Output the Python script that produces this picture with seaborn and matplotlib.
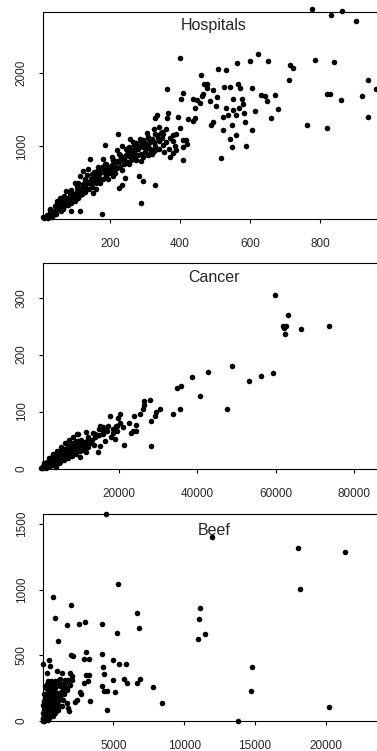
import seaborn as sns
import pandas as pd
import matplotlib
matplotlib.use("Agg")
import matplotlib.pyplot as plt

# (x, y) points
hospitals = [
    (776, 2875), (831, 2796), (862, 2843), (904, 2718), (400, 2204), (624, 2264),
    (652, 2171), (600, 2171), (562, 2134), (509, 2056), (533, 2046), (714, 2111),
    (722, 2070), (785, 2185), (840, 2157), (712, 1907), (938, 1907), (960, 1778),
    (919, 1685), (819, 1722), (830, 1722), (859, 1639), (762, 1292), (819, 1245),
    (938, 1407), (681, 1514), (671, 1708), (659, 1384), (643, 1685), (631, 1699),
    (648, 1625), (614, 1477), (607, 1222), (590, 1005), (607, 1801), (578, 1653),
    (581, 1583), (567, 1847), (573, 1801), (585, 1338), (584, 1454), (570, 1523),
    (559, 1431), (559, 1153), (549, 991), (543, 1107), (550, 1292), (552, 1500),
    (552, 1653), (543, 1810), (526, 1815), (538, 1431), (531, 1523), (524, 1408),
    (522, 1222), (516, 843), (505, 1671), (503, 1546), (495, 1329), (489, 1292),
    (486, 1616), (495, 1769), (478, 1801), (476, 1847), (460, 1972), (469, 1847),
    (462, 1685), (457, 1593), (467, 1718), (449, 1639), (438, 1648), (443, 1523),
    (443, 1384), (438, 1352), (422, 1375), (417, 1093), (408, 1083), (408, 991),
    (410, 815), (419, 1037), (400, 1245), (404, 1648), (408, 1732), (395, 1408),
    (390, 1176), (390, 945), (379, 907), (371, 852), (364, 1778), (367, 1454),
    (364, 1384), (371, 1120), (379, 1074), (386, 1005), (351, 1176), (341, 1269),
    (333, 1431), (329, 1384), (352, 1014), (360, 1060), (338, 1120), (326, 1231),
    (327, 945), (328, 472), (309, 1120), (305, 1037), (314, 898), (295, 528),
    (295, 1083), (290, 805), (284, 597), (288, 227), (269, 921), (267, 852),
    (273, 1046), (257, 1107), (255, 991), (249, 889), (246, 782), (243, 574),
    (233, 467), (227, 426), (224, 1176), (221, 945), (233, 1000), (210, 815),
    (212, 713), (210, 597), (198, 690), (190, 690), (186, 1014), (181, 829),
    (176, 713), (171, 505), (178, 79), (162, 667), (157, 574), (152, 366),
    (143, 829), (138, 690), (131, 435), (124, 482), (122, 667), (114, 597),
    (114, 111), (110, 319), (105, 389), (100, 505), (88, 111), (90, 227),
    (81, 273), (74, 389), (62, 296), (57, 134), (48, 227), (38, 65), (29, 134),
    (19, 42), (10, 42),
    (15, 30), (20, 60), (25, 45), (30, 90), (35, 120), (40, 100), (45, 150),
    (50, 180), (55, 160), (60, 210), (65, 250), (70, 230), (75, 280), (80, 300),
    (85, 260), (90, 330), (95, 350), (100, 310), (105, 380), (110, 420),
    (115, 400), (120, 450), (125, 470), (130, 430), (135, 500), (140, 520),
    (145, 480), (150, 560), (155, 540), (160, 600), (165, 580), (170, 620),
    (175, 650), (180, 680), (185, 640), (190, 700), (195, 720), (200, 690),
    (205, 750), (210, 760), (215, 730), (220, 800), (225, 780), (230, 820),
    (235, 850), (240, 830), (245, 880), (250, 900), (255, 870), (260, 920),
    (265, 950), (270, 930), (275, 980), (280, 960), (285, 1000), (290, 1020),
    (295, 990), (300, 1050), (305, 980), (310, 1010), (315, 1060), (320, 1100),
    (325, 940), (330, 1000), (335, 1150), (340, 1080), (345, 1180), (350, 1120),
    (30, 140), (45, 80), (60, 120), (70, 180), (80, 200), (90, 240), (100, 260),
    (110, 300), (120, 350), (130, 380), (140, 420), (150, 450), (160, 500),
    (170, 530), (180, 560), (190, 600), (200, 640), (210, 660), (220, 700),
    (230, 720), (240, 760), (250, 780), (260, 820), (270, 850), (280, 880),
    (290, 900), (300, 920), (310, 880), (320, 900), (330, 950),
    (50, 250), (70, 320), (90, 400), (110, 500), (130, 560), (150, 620),
    (170, 700), (190, 760), (210, 820), (230, 880), (250, 960), (270, 1020),
    (290, 1080), (310, 1130), (330, 1170), (350, 1200),
    (12, 20), (22, 15), (35, 40), (42, 190), (55, 230), (58, 300), (65, 150),
    (75, 240), (85, 350), (95, 290), (105, 440), (115, 340), (125, 400),
    (128, 540), (135, 610), (145, 560), (155, 650), (160, 420), (165, 720),
    (175, 560), (185, 760), (195, 560), (205, 860), (215, 640), (225, 900),
    (235, 680), (245, 960), (255, 760), (265, 1060), (275, 820), (285, 1100),
    (295, 860), (305, 1180), (315, 960), (325, 1060), (340, 960), (355, 920),
    (360, 1240), (370, 960), (380, 1150),
]

cancer = [
    (59825, 304), (63140, 269), (62120, 247), (62550, 251), (61870, 250),
    (62400, 237), (66380, 245), (73610, 250), (59310, 168), (56160, 163),
    (53180, 153), (48840, 180), (42800, 170), (38720, 161), (35910, 145),
    (34890, 142), (40590, 128), (47480, 105), (35570, 105), (33780, 96),
    (30380, 105), (29530, 99), (29100, 92), (28250, 83), (28080, 40),
    (27830, 120), (26300, 118), (26380, 111), (26130, 104), (25280, 95),
    (23960, 92), (24400, 76), (23570, 66), (23150, 63), (22550, 80),
    (24400, 66), (20170, 95), (19740, 89), (20340, 80), (19150, 74),
    (19490, 66), (18470, 63), (17620, 92), (18890, 51), (21190, 41),
    (16760, 69), (15910, 66), (15060, 74), (14210, 57), (14640, 29),
    (15060, 39), (13360, 63), (12080, 51), (11660, 64), (9530, 60),
    (9530, 48), (10810, 33), (9100, 39), (7400, 42), (8250, 28), (6550, 33),
    (5700, 28), (4850, 19), (4000, 16), (3150, 10), (2300, 7), (1020, 4),
    (300, 1), (600, 2), (900, 4), (1200, 3), (1500, 6), (1800, 5), (2100, 8),
    (2400, 9), (2700, 7), (3000, 12), (3300, 10), (3600, 14), (3900, 13),
    (4200, 16), (4500, 18), (4800, 15), (5100, 20), (5400, 22), (5700, 19),
    (6000, 25), (6300, 23), (6600, 27), (6900, 30), (7200, 26), (7500, 32),
    (7800, 29), (8100, 35), (8400, 33), (8700, 38), (9000, 36), (9300, 40),
    (9600, 42), (9900, 39), (10200, 45), (10500, 43), (2000, 15), (3000, 20),
    (4000, 25), (5000, 30), (6000, 35), (7000, 40), (8000, 44), (9000, 48),
    (4000, 8), (5000, 12), (6000, 15), (7000, 18), (8000, 22), (9000, 25),
    (10000, 30), (11000, 35), (12000, 38), (12500, 45), (13000, 50),
    (14000, 55), (15000, 58), (16000, 60), (17000, 65), (13500, 42),
    (16500, 48), (18000, 55), (11500, 28), (10000, 20), (1000, 8), (1500, 12),
    (2500, 4), (3500, 6), (500, 5), (800, 10), (2200, 18), (3200, 25),
    (4200, 30), (5200, 38), (6200, 45), (7200, 50), (8200, 55), (9200, 60),
    (700, 0), (1300, 1), (200, 0),
    (1600, 10), (2600, 14), (3400, 18), (4400, 22), (5400, 27), (6400, 31),
    (7400, 36), (8400, 41), (9400, 45), (10400, 50), (11400, 46), (12200, 55),
    (3800, 3), (4600, 10), (5600, 16), (6600, 21), (7600, 24), (8600, 30),
    (9800, 33), (10800, 40), (11800, 42), (13800, 60), (14800, 70),
    (16000, 72), (17200, 75), (18500, 70), (19500, 75), (21000, 72),
]

beef = [
    (4440, 1579), (11950, 1403), (18070, 1314), (21380, 1286), (18190, 1001),
    (5290, 1039), (756, 945), (11150, 856), (11080, 772), (11500, 662),
    (10980, 619), (6660, 823), (6830, 703), (5220, 670), (2010, 879),
    (898, 785), (1700, 726), (2575, 739), (3020, 751), (4180, 734),
    (1060, 606), (2030, 499), (2130, 492), (3070, 522), (3240, 471),
    (2950, 471), (4160, 509), (4940, 466), (4230, 408), (5360, 428),
    (5860, 428), (4300, 359), (4940, 311), (5720, 321), (5950, 288),
    (6850, 321), (6680, 288), (7790, 260), (5080, 222), (4530, 227),
    (4300, 227), (4180, 262), (8410, 135), (4580, 81), (14760, 227),
    (14780, 408), (20240, 107), (13790, 0), (3190, 303), (3050, 346),
    (3290, 346), (2930, 288), (3350, 153), (2690, 206), (2650, 217),
    (2290, 140), (1890, 74), (1820, 97), (1460, 224), (2055, 313),
    (2055, 339), (1940, 364), (1580, 313), (1350, 364), (520, 420),
    (47, 428), (472, 466), (990, 382), (400, 300), (756, 237), (1180, 199),
    (990, 135), (520, 110), (283, 186), (165, 59), (47, 20), (400, 8),
    (756, 33), (1110, 84), (1700, 135), (2410, 160), (1460, 160), (756, 160),
    (283, 84), (165, 262), (283, 364), (874, 300), (1230, 262), (1040, 211),
    (520, 186), (638, 224), (756, 275), (1180, 313), (1460, 262), (1700, 237),
    (1350, 110), (520, 59), (283, 38),
    (50, 10), (100, 30), (150, 60), (200, 90), (250, 120), (300, 150),
    (350, 180), (400, 210), (450, 240), (500, 270), (80, 0), (150, 5),
    (250, 15), (350, 25), (450, 40), (550, 60), (650, 80), (750, 100),
    (850, 130), (950, 160), (100, 200), (200, 250), (300, 280), (60, 150),
    (120, 100), (180, 170), (220, 50), (280, 80), (320, 110), (380, 140),
    (420, 60), (480, 90), (520, 150), (600, 120), (700, 180), (800, 200),
    (900, 250), (1000, 270), (1100, 300), (1200, 320), (1300, 280),
    (1400, 250), (1600, 290), (1800, 310), (30, 60), (20, 0), (600, 300),
    (700, 250), (800, 160), (900, 120), (1000, 80), (1100, 150), (1200, 180),
    (1300, 220), (1500, 200), (1700, 250), (1900, 270),
    (30, 120), (60, 40), (90, 80), (130, 140), (170, 20), (190, 110),
    (230, 200), (260, 60), (310, 40), (340, 220), (370, 100), (410, 160),
    (440, 20), (470, 190), (560, 100), (620, 40), (660, 160), (720, 60),
    (780, 140), (840, 60), (880, 190), (960, 100), (1050, 200), (1150, 110),
]

titles = ["Hospitals", "Cancer", "Beef"]
x_ticks = [[200, 400, 600, 800], [20000, 40000, 60000, 80000], [5000, 10000, 15000, 20000]]
y_ticks = [[1000, 2000], [0, 100, 200, 300], [0, 500, 1000, 1500]]

sns.set_style("white")
plt.rcParams['font.family'] = ['Liberation Sans', 'DejaVu Sans']

W, H = 377, 751
fig = plt.figure(figsize=(W / 100, H / 100), dpi=100)

# panel boxes in pixels: (top, bottom); right edge runs past the image
boxes = [(12, 219), (263, 469), (514, 721)]
xlims = [(8.6, 986), (590, 87950), (20, 24200)]
ylims = [(8, 2836), (-1, 361), (-3, 1576)]
title_off = [6, 7, 9]

for i, data in enumerate([hospitals, cancer, beef]):
    top, bot = boxes[i]
    ax = fig.add_axes([43 / W, 1 - bot / H, (385 - 43) / W, (bot - top) / H])
    df = pd.DataFrame(data, columns=['x', 'y'])
    sns.scatterplot(data=df, x='x', y='y', ax=ax, color='black', s=16,
                    linewidth=0, clip_on=False)
    ax.set_xlim(*xlims[i])
    ax.set_ylim(*ylims[i])
    ax.set_xticks(x_ticks[i])
    ax.set_yticks(y_ticks[i])
    ax.set_xlabel('')
    ax.set_ylabel('')
    for s in ax.spines.values():
        s.set_color('black')
        s.set_linewidth(0.8)
    ax.tick_params(axis='both', direction='out', length=3, width=0.8,
                   color='black', labelsize=8.5, left=True, bottom=True)
    ax.tick_params(axis='x', pad=11)
    ax.tick_params(axis='y', pad=8)
    for lab in ax.get_yticklabels():
        lab.set_rotation(90)
        lab.set_va('center')
    ax.text(0.5, 1 - title_off[i] / (bot - top), titles[i], transform=ax.transAxes,
            ha='center', va='top', fontsize=11.5)

fig.savefig('out.png', dpi=100)
